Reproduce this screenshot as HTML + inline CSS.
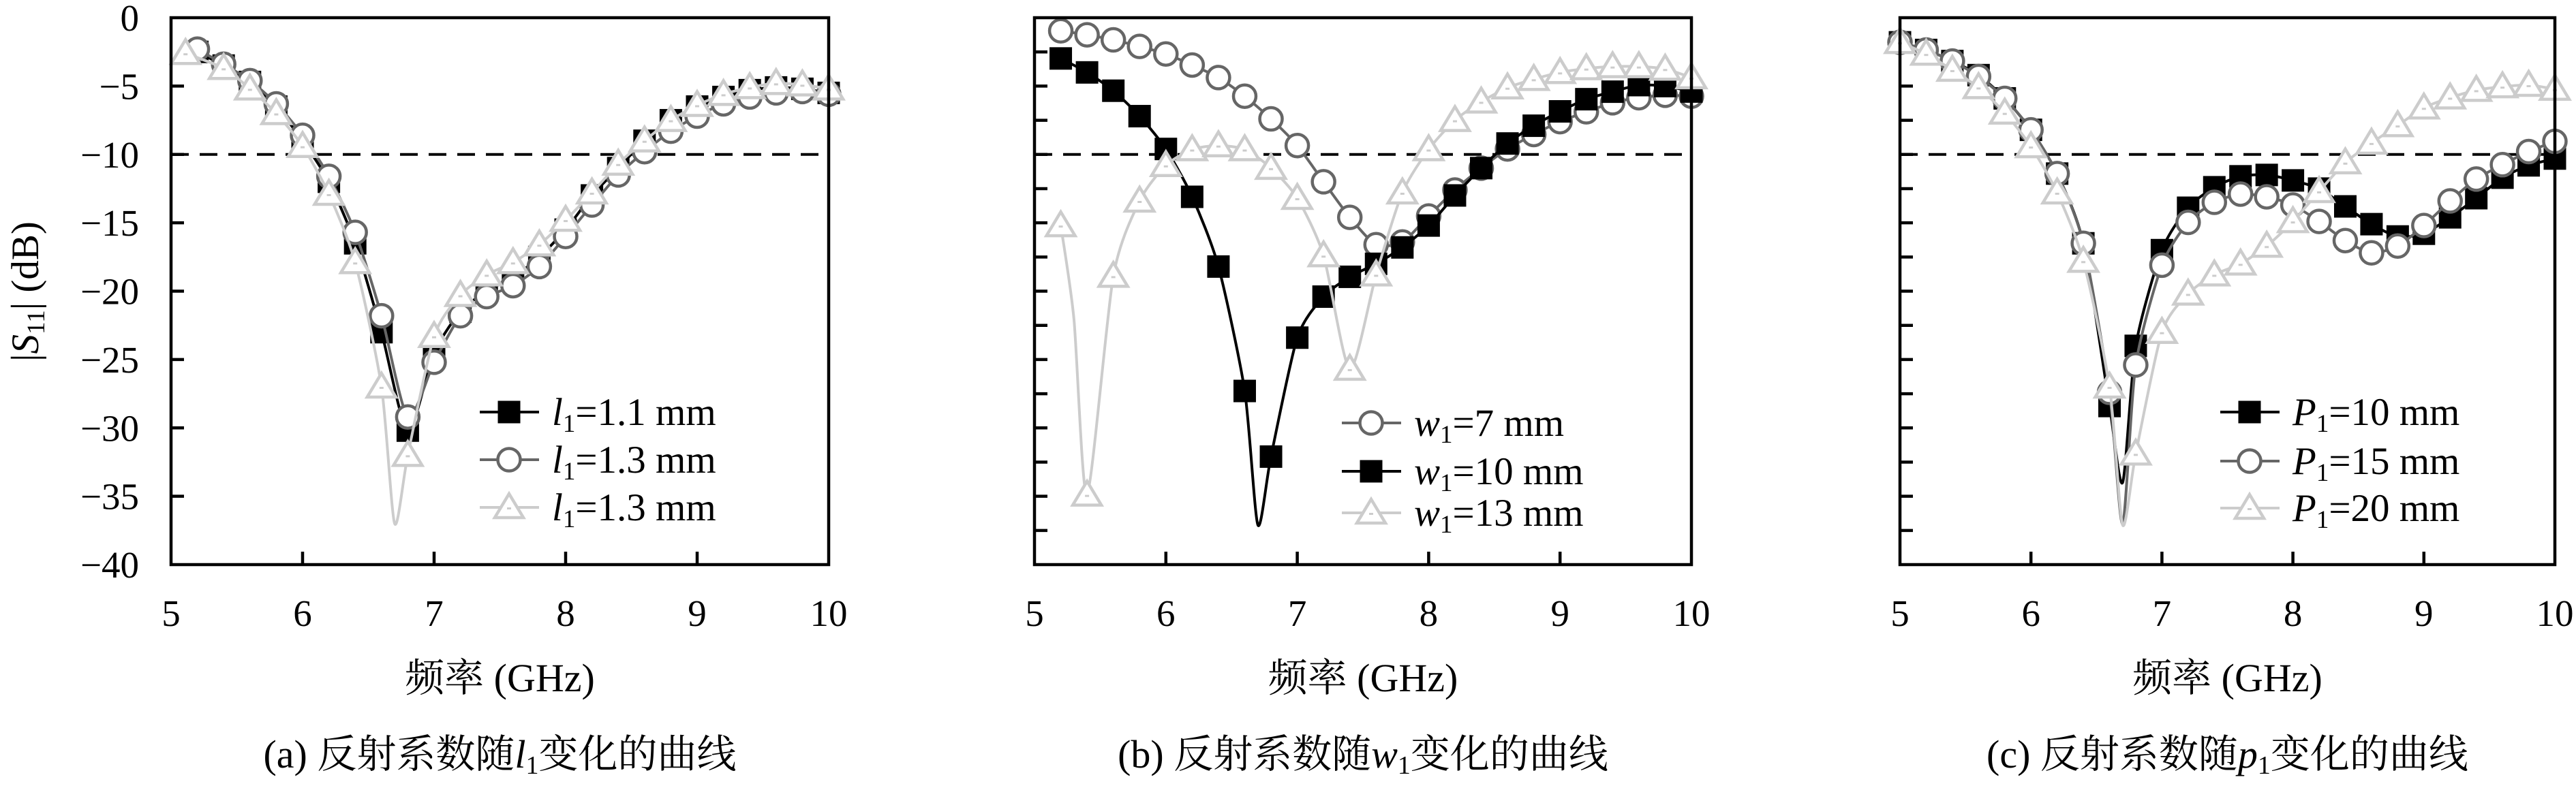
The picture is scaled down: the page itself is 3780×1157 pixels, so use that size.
<!DOCTYPE html>
<html><head><meta charset="utf-8"><style>
html,body{margin:0;padding:0;background:#fff;}
svg{display:block;}
text{font-family:"Liberation Serif","Noto Serif CJK SC",serif;fill:#000;}
</style></head><body>
<svg id="s" width="3780" height="1157" xmlns="http://www.w3.org/2000/svg"></svg>
<script>
const S=document.getElementById('s');let h='';
const T=26,B=829,PX=20.075;
const panels=[{L:251,R:1216},{L:1518,R:2482},{L:2788,R:3749}];
function X(p,f){return p.L+(f-5)*(p.R-p.L)/5;}
function Y(d){return T-d*PX;}
function path(pts){
 let d='M'+pts[0][0].toFixed(1)+','+pts[0][1].toFixed(1);
 for(let i=0;i<pts.length-1;i++){const p0=pts[Math.max(0,i-1)],p1=pts[i],p2=pts[i+1],p3=pts[Math.min(pts.length-1,i+2)];
  const t=0.12;const c1=[p1[0]+(p2[0]-p0[0])*t,p1[1]+(p2[1]-p0[1])*t],c2=[p2[0]-(p3[0]-p1[0])*t,p2[1]-(p3[1]-p1[1])*t];
  d+=`C${c1[0].toFixed(1)},${c1[1].toFixed(1)} ${c2[0].toFixed(1)},${c2[1].toFixed(1)} ${p2[0].toFixed(1)},${p2[1].toFixed(1)}`;}
 return d;}
function marker(t,x,y){
 if(t=='s')return `<rect x="${x-16.5}" y="${y-16.5}" width="33" height="33" fill="#000"/>`;
 if(t=='c')return `<circle cx="${x}" cy="${y}" r="16.5" fill="#fff" stroke="#666" stroke-width="4.5"/>`;
 return `<polygon points="${x},${y-20} ${x+21},${y+15} ${x-21},${y+15}" fill="#fff" stroke="#ccc" stroke-width="4.5"/><rect x="${x-3}" y="${y}" width="6" height="3" fill="#ccc"/>`;}
const col={s:'#000',c:'#666',t:'#ccc'};
function series(p,t,data,mins){
 let pts=data.map(a=>[X(p,a[0]),Y(a[1])]);
 let all=data.concat(mins||[]).sort((a,b)=>a[0]-b[0]).map(a=>[X(p,a[0]),Y(a[1])]);
 h+=`<path d="${path(all)}" fill="none" stroke="${col[t]}" stroke-width="4"/>`;
 pts.forEach(q=>h+=marker(t,q[0],q[1]));}
function fr(start,vals){return vals.map((v,i)=>[+(start+0.2*i).toFixed(2),v]);}
function axes(p,i,step,labels){
 h+=`<line x1="${p.L}" x2="${p.R}" y1="${Y(-10)}" y2="${Y(-10)}" stroke="#000" stroke-width="4" stroke-dasharray="26,16"/>`;
 for(let f=6;f<10;f++)h+=`<line x1="${X(p,f)}" x2="${X(p,f)}" y1="${B}" y2="${B-19}" stroke="#000" stroke-width="4.5"/>`;
 for(let d=-step;d>-40;d-=step)h+=`<line x1="${p.L}" x2="${p.L+19}" y1="${Y(d)}" y2="${Y(d)}" stroke="#000" stroke-width="4.5"/>`;
 for(let f=5;f<=10;f++)h+=`<text x="${X(p,f)}" y="919" font-size="55" text-anchor="middle">${f}</text>`;
 if(labels)for(let d=0;d>=-40;d-=5)h+=`<text x="204" y="${Y(d)+19}" font-size="55" text-anchor="end">${d==0?'0':'−'+(-d)}</text>`;
 const cx=(p.L+p.R)/2;
 h+=`<text x="${cx}" y="1015" font-size="58" text-anchor="middle">频率 (GHz)</text>`;
}
function frame(p){h+=`<rect x="${p.L}" y="${T}" width="${p.R-p.L}" height="${B-T}" fill="none" stroke="#000" stroke-width="4.5"/>`;}
function legend(x0,ys,items){
 items.forEach((it,k)=>{const y=ys[k];
  h+=`<line x1="${x0}" x2="${x0+87}" y1="${y}" y2="${y}" stroke="${col[it[0]]}" stroke-width="4"/>`+marker(it[0],x0+43,y);
  h+=`<text x="${x0+106}" y="${y+19}" font-size="57"><tspan font-style="italic">${it[1]}</tspan><tspan font-size="37" dy="10">1</tspan><tspan dy="-10">=${it[2]} mm</tspan></text>`;});}

let p=panels[0];axes(p,0,5,true);
series(p,'s',fr(5.2,[-2.5,-3.5,-4.7,-6.5,-9,-12,-16.5,-23,-30.2,-24.5,-21.5,-20,-19,-17.5,-15.5,-13,-11,-9,-7.5,-6.5,-5.8,-5.3,-5.1,-5.2,-5.5]));
series(p,'c',fr(5.2,[-2.3,-3.4,-4.6,-6.3,-8.6,-11.6,-15.7,-21.8,-29.2,-25.2,-21.8,-20.4,-19.6,-18.2,-16,-13.7,-11.5,-9.8,-8.3,-7.2,-6.3,-5.8,-5.5,-5.4,-5.6]));
series(p,'t',[[5.11,-2.6]].concat(fr(5.4,[-3.7,-5.2,-7,-9.4,-12.9,-17.9,-27,-32,-23.3,-20.3,-18.8,-17.9,-16.6,-14.8,-12.8,-10.7,-9,-7.5,-6.4,-5.6,-5.1,-4.8,-4.9,-5.2])),[[6.7,-37]]);
legend(704,[605,675,745],[['s','l','1.1'],['c','l','1.3'],['t','l','1.3']]);
frame(p);
p=panels[1];axes(p,1,2.5,false);
series(p,'c',fr(5.2,[-0.96,-1.25,-1.62,-2.1,-2.65,-3.46,-4.38,-5.74,-7.4,-9.35,-12,-14.6,-16.6,-16.4,-14.5,-12.6,-11,-9.6,-8.54,-7.6,-6.88,-6.22,-5.85,-5.67,-5.74]));
series(p,'s',fr(5.2,[-2.98,-4.0,-5.34,-7.2,-9.6,-13.1,-18.2,-27.3,-32.1,-23.4,-20.4,-18.95,-18,-16.8,-15.2,-13,-11,-9.2,-7.9,-6.85,-5.96,-5.41,-4.93,-5.0,-5.4]),[[6.7,-37.1]]);
series(p,'t',fr(5.2,[-15.2,-34.9,-18.9,-13.4,-10.8,-9.64,-9.35,-9.64,-11,-13.2,-17.4,-25.7,-18.8,-12.8,-9.64,-7.5,-6.15,-5.12,-4.5,-4.0,-3.72,-3.57,-3.57,-3.75,-4.38]),[[5.3,-22]]);
legend(1969,[621,692,753],[['c','w','7'],['s','w','10'],['t','w','13']]);
frame(p);
p=panels[2];axes(p,2,2.5,false);
series(p,'s',fr(5.0,[-1.8,-2.36,-3.17,-4.2,-5.9,-8.2,-11.4,-16.5,-28.4,-24,-17,-13.9,-12.4,-11.6,-11.5,-11.9,-12.5,-13.8,-15.1,-16,-15.8,-14.6,-13.2,-11.7,-10.8,-10.3]),[[6.7,-34]]);
series(p,'c',fr(5.0,[-1.8,-2.36,-3.17,-4.3,-5.9,-8.2,-11.4,-16.5,-27.4,-25.4,-18.1,-14.97,-13.5,-12.9,-13.1,-13.7,-14.9,-16.3,-17.2,-16.7,-15.2,-13.4,-11.8,-10.75,-9.79,-9.05]),[[6.7,-37]]);
series(p,'t',fr(5.0,[-1.8,-2.65,-3.83,-5.1,-6.96,-9.42,-12.8,-17.8,-27,-31.9,-23,-20.2,-18.8,-18,-16.7,-14.9,-12.7,-10.6,-9.16,-7.88,-6.59,-5.85,-5.3,-5.04,-4.93,-5.22]),[[6.7,-37.1]]);
legend(3258,[605,677,746],[['s','P','10'],['c','P','15'],['t','P','20']]);
frame(p);
h+=`<text transform="translate(56,428) rotate(-90)" font-size="57" text-anchor="middle">|<tspan font-style="italic">S</tspan><tspan font-size="37" dy="9">11</tspan><tspan dy="-9">| (dB)</tspan></text>`;
function cap(p,pre,v){const cx=(p.L+p.R)/2;
 h+=`<text x="${cx}" y="1127" font-size="58" text-anchor="middle">${pre} 反射系数随<tspan font-style="italic">${v}</tspan><tspan font-size="38" dy="9">1</tspan><tspan dy="-9">变化的曲线</tspan></text>`;}
cap(panels[0],'(a)','l');cap(panels[1],'(b)','w');cap(panels[2],'(c)','p');
S.innerHTML=h;
</script>
</body></html>
